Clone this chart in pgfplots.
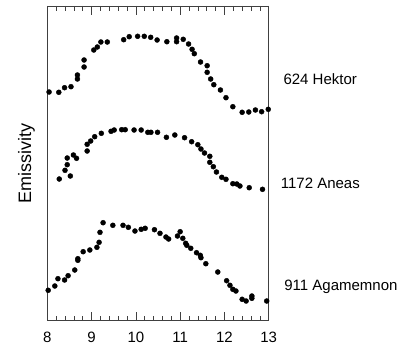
\documentclass[border=0pt]{standalone}
\usepackage{pgfplots}
\pgfplotsset{compat=1.18}
\usepackage{fontspec}
\setmainfont{Liberation Sans}
\begin{document}
\begin{tikzpicture}
\begin{axis}[
  scale only axis,
  width=221.4pt, height=314.7pt,
  xmin=8, xmax=13, ymin=25.3, ymax=340,
  xtick={8,9,10,11,12,13},
  minor x tick num=4,
  ytick=\empty,
  tick align=inside,
  xtick pos=both,
  major tick length=9pt,
  minor tick length=5pt,
  axis line style={draw=black!75, line width=0.8pt},
  every tick/.style={draw=black!75, line width=0.6pt},
  /pgf/number format/assume math mode=true,
  ticklabel style={font=\fontsize{15}{17}\selectfont},
  xticklabel style={yshift=-8pt},
  ylabel={Emissivity},
  ylabel style={font=\fontsize{18}{20}\selectfont, yshift=9pt},
  clip=false,
  only marks,
  mark=*,
  mark size=2.5pt,
]
\addplot[black, mark=*, only marks] coordinates {
(8.04,254) (8.26,253.7) (8.39,258.3) (8.535,259.3) (8.68,271) (8.68,267)
(8.83,286) (8.83,279) (9.05,296) (9.13,299) (9.21,304) (9.355,304)
(9.725,306.3) (9.85,309.3) (10.04,309.7) (10.19,309.7) (10.335,308.7)
(10.48,306) (10.70,304.3) (10.92,308) (10.92,304.3) (11.07,306.7)
(11.19,302) (11.27,296.7) (11.32,292.3) (11.46,284) (11.61,280.3)
(11.61,273.7) (11.69,267) (11.76,261.3) (11.91,256) (12.035,248.3)
(12.19,239.3) (12.40,233.7) (12.55,234) (12.70,236) (12.84,234.3) (12.99,236.7)
};
\addplot[black, mark=*, only marks] coordinates {
(8.27,167) (8.40,175.7) (8.45,181.3) (8.45,188) (8.52,170) (8.59,191)
(8.66,187.7) (8.90,195) (8.90,201.7) (8.98,205) (9.07,209.3) (9.22,212.7)
(9.44,214.7) (9.51,216) (9.68,216.3) (9.76,216.3) (9.96,216) (10.12,216)
(10.27,213.7) (10.34,213.7) (10.49,213.7) (10.69,208.7) (10.88,211)
(11.10,208.3) (11.26,204.3) (11.40,201.3) (11.47,197) (11.55,193)
(11.67,189.7) (11.67,183.7) (11.75,179.3) (11.82,174) (11.94,168.7)
(12.035,166.7) (12.19,162.3) (12.28,162) (12.35,160) (12.56,158.3) (12.86,156.7)
};
\addplot[black, mark=*, only marks] coordinates {
(8.02,55.7) (8.17,60) (8.24,67.3) (8.39,66) (8.47,70.3) (8.62,76)
(8.69,87.3) (8.69,85.7) (8.81,94.3) (8.96,96) (9.12,98.7) (9.17,103.7)
(9.19,113.7) (9.26,123.3) (9.48,120.7) (9.71,120.7) (9.83,118.7) (9.98,115)
(10.12,116.7) (10.21,117.7) (10.42,116.3) (10.545,112.7) (10.68,109)
(10.74,107) (10.94,110) (11.00,114.3) (11.06,107.7) (11.125,102.7)
(11.15,100.7) (11.24,97.7) (11.37,93.3) (11.455,90.7) (11.47,88.3)
(11.58,82.3) (11.85,74) (12.05,65.3) (12.125,60.7) (12.19,56.7) (12.26,55)
(12.40,46.7) (12.49,45) (12.62,50) (12.62,47.7) (12.955,45)
};
\node[anchor=west, font=\fontsize{15}{17}\selectfont, inner sep=0pt] at (axis cs:13.33,266.7) {624 Hektor};
\node[anchor=west, font=\fontsize{15}{17}\selectfont, inner sep=0pt] at (axis cs:13.27,162.7) {1172 Aneas};
\node[anchor=west, font=\fontsize{15}{17}\selectfont, inner sep=0pt] at (axis cs:13.35,59.3) {911 Agamemnon};
\coordinate (ll) at (rel axis cs:0,0);
\end{axis}
\pgfresetboundingbox
\useasboundingbox (ll) ++(-47.3pt,-25.3pt) rectangle ++(403pt,346pt);
\end{tikzpicture}
\end{document}
